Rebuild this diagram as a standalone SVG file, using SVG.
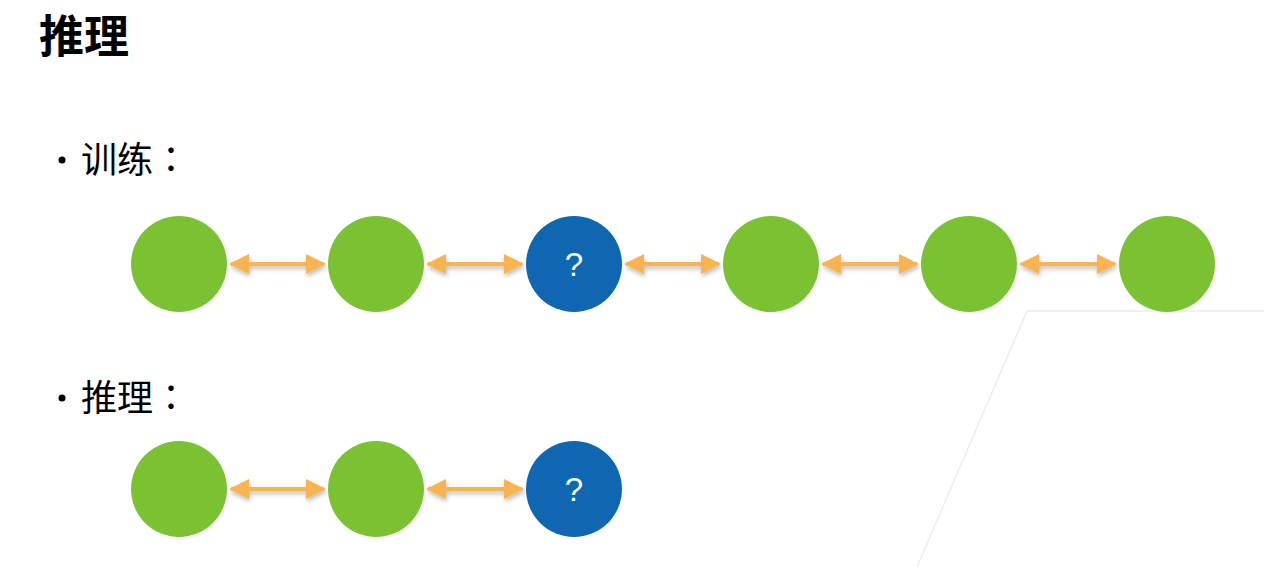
<svg xmlns="http://www.w3.org/2000/svg" width="1264" height="567" viewBox="0 0 1264 567">
  <defs>
    <style>
      .title { font-family: "Noto Sans CJK SC", "Liberation Sans", sans-serif; font-size: 45px; font-weight: bold; fill: #000; }
      .bullet { font-family: "Noto Sans CJK JP", "Noto Sans CJK SC", "Liberation Sans", sans-serif; font-size: 36px; fill: #000; }
      .dot { fill: #000; }
      .known { fill: #7bc232; }
      .query { fill: #0e67b0; }
      .qmark { font-family: "Liberation Sans", Arial, sans-serif; font-size: 33px; fill: #fff; text-anchor: middle; }
      .link { stroke: #f9b351; stroke-width: 4; fill: none; marker-start: url(#head); marker-end: url(#head); filter: url(#shadow); }
      .frame { stroke: #ececec; stroke-width: 1.5; fill: none; }
    </style>
    <marker id="head" viewBox="0 0 10 10" refX="9" refY="5" markerWidth="5" markerHeight="5" orient="auto-start-reverse" markerUnits="strokeWidth">
      <path d="M0,0 L10,5 L0,10 z" fill="#f9b351"/>
    </marker>
    <filter id="shadow" filterUnits="userSpaceOnUse" x="0" y="0" width="1264" height="567">
      <feDropShadow dx="1" dy="3" stdDeviation="2" flood-color="#000" flood-opacity="0.25"/>
    </filter>
  </defs>

  <!-- faint background frame -->
  <path class="frame" d="M1264,311 L1027,311 L917,567"/>

  <!-- headings -->
  <text class="title" x="39" y="53">推理</text>
  <circle class="dot" cx="62" cy="160" r="3.5"/>
  <text class="bullet" x="81" y="173">训练：</text>
  <circle class="dot" cx="62" cy="398" r="3.5"/>
  <text class="bullet" x="81" y="411">推理：</text>

  <!-- connectors -->
  <g id="connectors">
    <line class="link" x1="231" y1="264" x2="324" y2="264"/>
    <line class="link" x1="428" y1="264" x2="522" y2="264"/>
    <line class="link" x1="626" y1="264" x2="719" y2="264"/>
    <line class="link" x1="823" y1="264" x2="917" y2="264"/>
    <line class="link" x1="1021" y1="264" x2="1115" y2="264"/>
    <line class="link" x1="231" y1="489" x2="324" y2="489"/>
    <line class="link" x1="428" y1="489" x2="522" y2="489"/>
  </g>

  <!-- training sequence -->
  <g id="t1"><circle class="known" cx="179" cy="264" r="48"/></g>
  <g id="t2"><circle class="known" cx="376" cy="264" r="48"/></g>
  <g id="t3"><circle class="query" cx="574" cy="264" r="48"/><text class="qmark" x="574" y="276">?</text></g>
  <g id="t4"><circle class="known" cx="771" cy="264" r="48"/></g>
  <g id="t5"><circle class="known" cx="969" cy="264" r="48"/></g>
  <g id="t6"><circle class="known" cx="1167" cy="264" r="48"/></g>

  <!-- inference sequence -->
  <g id="i1"><circle class="known" cx="179" cy="489" r="48"/></g>
  <g id="i2"><circle class="known" cx="376" cy="489" r="48"/></g>
  <g id="i3"><circle class="query" cx="574" cy="489" r="48"/><text class="qmark" x="574" y="501">?</text></g>
</svg>
